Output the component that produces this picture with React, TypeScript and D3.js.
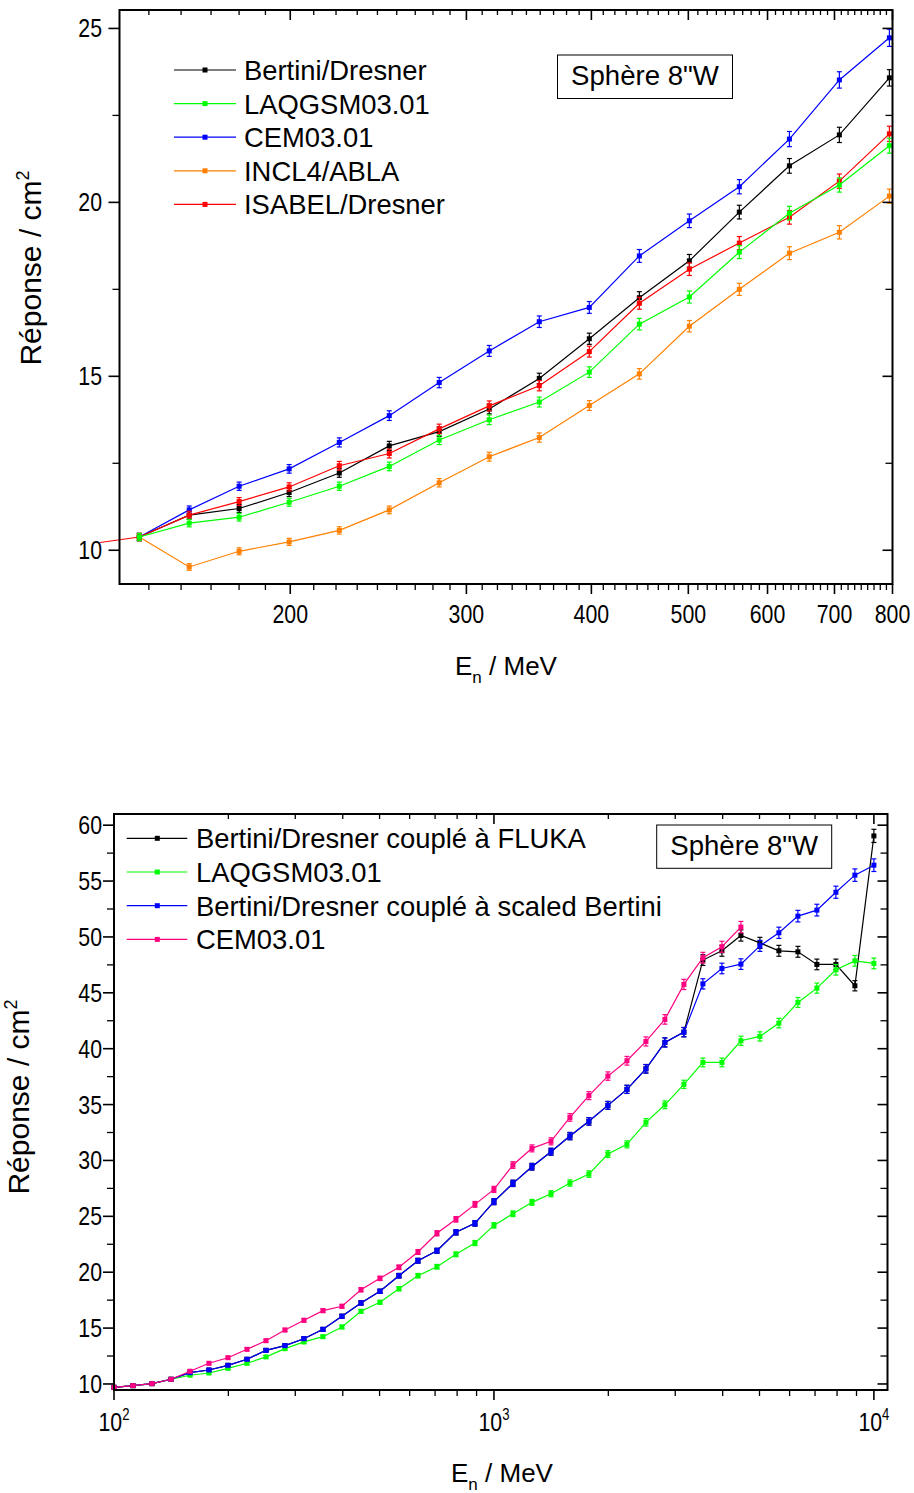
import React from "react";
import * as d3 from "d3";

const W = 914;
const H = 1493;
const FONT = "'Liberation Sans', Arial, Helvetica, sans-serif";
const REL_ERR = 0.01;

// ---------- Top panel data (E in MeV, response in cm^2) ----------
const topEnergy = [125.9, 141.3, 158.5, 177.8, 199.5, 223.9, 251.2, 281.8, 316.2, 354.8, 398.1, 446.7, 501.2, 562.3, 631.0, 707.9, 794.3];
const topBertini = [null, 10.38, 11.01, 11.2, 11.66, 12.22, 13.0, 13.41, 14.06, 14.94, 16.08, 17.26, 18.32, 19.72, 21.05, 21.94, 23.58];
const topLaqgsm = [null, 10.38, 10.78, 10.95, 11.38, 11.84, 12.41, 13.17, 13.75, 14.26, 15.12, 16.5, 17.28, 18.57, 19.69, 20.5, 21.63];
const topCem = [null, 10.38, 11.16, 11.84, 12.34, 13.1, 13.87, 14.82, 15.73, 16.57, 16.98, 18.46, 19.47, 20.45, 21.82, 23.52, 24.73];
const topIncl = [null, 10.38, 9.52, 9.97, 10.24, 10.57, 11.16, 11.94, 12.69, 13.24, 14.16, 15.07, 16.44, 17.5, 18.54, 19.14, 20.18];
const topIsabel = [10.18, 10.38, 11.01, 11.4, 11.82, 12.43, 12.78, 13.49, 14.15, 14.73, 15.71, 17.1, 18.08, 18.83, 19.57, 20.61, 21.97];
const topXMajor = [200, 300, 400, 500, 600, 700, 800];
const topYMajor = [10, 15, 20, 25];
const topYMinor = [12.5, 17.5, 22.5];

// ---------- Bottom panel data ----------
const botEnergy = [100, 112.2, 125.9, 141.3, 158.5, 177.8, 199.5, 223.9, 251.2, 281.8, 316.2, 354.8, 398.1, 446.7, 501.2, 562.3, 631.0, 707.9, 794.3, 891.3, 1000, 1122, 1259, 1413, 1585, 1778, 1995, 2239, 2512, 2818, 3162, 3548, 3981, 4467, 5012, 5623, 6310, 7079, 7943, 8913, 10000];
const botFluka = [9.7, 9.85, 10.03, 10.42, 11.01, 11.25, 11.67, 12.21, 13.01, 13.43, 14.05, 14.89, 16.06, 17.25, 18.29, 19.69, 21.03, 21.92, 23.57, 24.37, 26.31, 27.95, 29.44, 30.78, 32.18, 33.5, 34.93, 36.36, 38.2, 40.56, 41.48, 47.93, 48.76, 50.13, 49.47, 48.76, 48.67, 47.54, 47.54, 45.63, 59.04];
const botLaqgsm = [9.7, 9.85, 10.03, 10.42, 10.78, 10.98, 11.4, 11.85, 12.42, 13.16, 13.76, 14.23, 15.1, 16.5, 17.31, 18.52, 19.69, 20.49, 21.6, 22.61, 24.19, 25.23, 26.25, 27.02, 27.98, 28.78, 30.57, 31.44, 33.41, 34.98, 36.81, 38.77, 38.77, 40.71, 41.1, 42.29, 44.14, 45.42, 47.06, 47.86, 47.63];
const botScaled = [9.7, 9.85, 10.03, 10.42, 11.01, 11.25, 11.67, 12.21, 13.01, 13.43, 14.05, 14.89, 16.06, 17.25, 18.29, 19.69, 21.03, 21.92, 23.57, 24.37, 26.31, 27.95, 29.44, 30.78, 32.18, 33.5, 34.93, 36.36, 38.2, 40.56, 41.48, 45.8, 47.18, 47.57, 49.2, 50.37, 51.86, 52.4, 54.0, 55.53, 56.42];
const botCem = [9.7, 9.85, 10.03, 10.42, 11.14, 11.85, 12.35, 13.1, 13.87, 14.83, 15.7, 16.56, 16.95, 18.43, 19.45, 20.44, 21.81, 23.48, 24.73, 26.07, 27.41, 29.59, 31.08, 31.71, 33.85, 35.8, 37.55, 38.92, 40.65, 42.62, 45.75, 48.14, 49.12, 50.88];
const botXMajor = [100, 1000, 10000];
const botYMajor = [10, 15, 20, 25, 30, 35, 40, 45, 50, 55, 60];
const botYMinor = [12.5, 17.5, 22.5, 27.5, 32.5, 37.5, 42.5, 47.5, 52.5, 57.5];

type Series = { name: string; color: string; xs: number[]; ys: (number | null)[] };

function Chart(p: any) {
  const { id, L, R, T, B, x, y, xMajor, xMinor, yMajor, yMinor, xTickText, xTickY, yTickX, series, order, legend, box, yTitle, xTitle, clipLeft } = p;
  const line = d3
    .line<[number, number | null]>()
    .defined((d) => d[1] !== null)
    .x((d) => x(d[0]))
    .y((d) => y(d[1] as number));
  const cap = 2.5;
  const ms = 5;
  return (
    <g>
      <defs>
        <clipPath id={id + "clip"}>
          <rect x={clipLeft} y={T} width={R - clipLeft} height={B - T} />
        </clipPath>
      </defs>
      {order.map((si: number) => {
        const s: Series = series[si];
        const pts: [number, number | null][] = s.xs.map((e, i) => [e, i < s.ys.length ? s.ys[i] : null]);
        return (
          <g key={s.name}>
            <path d={line(pts) || ""} fill="none" stroke={s.color} strokeWidth={1.2} clipPath={`url(#${id}clip)`} />
            {pts.map((d, i) => {
              if (d[1] === null) return null;
              const v = d[1] as number;
              const cx = x(d[0]);
              if (cx < L - 1) return null;
              const y1 = y(v * (1 - REL_ERR));
              const y2 = y(v * (1 + REL_ERR));
              return (
                <g key={i}>
                  <line x1={cx} x2={cx} y1={y1} y2={y2} stroke={s.color} strokeWidth={1.2} />
                  <line x1={cx - cap} x2={cx + cap} y1={y1} y2={y1} stroke={s.color} strokeWidth={1.2} />
                  <line x1={cx - cap} x2={cx + cap} y1={y2} y2={y2} stroke={s.color} strokeWidth={1.2} />
                  <rect x={cx - ms / 2} y={y(v) - ms / 2} width={ms} height={ms} fill={s.color} />
                </g>
              );
            })}
          </g>
        );
      })}
      <rect x={L} y={T} width={R - L} height={B - T} fill="none" stroke="#000" strokeWidth={2} />
      {xMajor.map((v: number) => (
        <g key={"xM" + v}>
          <line x1={x(v)} x2={x(v)} y1={B} y2={B + 10} stroke="#000" strokeWidth={1.6} />
          <line x1={x(v)} x2={x(v)} y1={T} y2={T + 10} stroke="#000" strokeWidth={1.6} />
        </g>
      ))}
      {xMinor.map((v: number) => (
        <g key={"xm" + v}>
          <line x1={x(v)} x2={x(v)} y1={B} y2={B + 6} stroke="#000" strokeWidth={1.3} />
          <line x1={x(v)} x2={x(v)} y1={T} y2={T + 5} stroke="#000" strokeWidth={1.3} />
        </g>
      ))}
      {xMajor.map((v: number) => (
        <text key={"xl" + v} transform={`translate(${x(v)},${xTickY}) scale(0.82,1)`} textAnchor="middle" fontSize={26} fontFamily={FONT}>
          {xTickText(v)}
        </text>
      ))}
      {yMajor.map((v: number) => (
        <g key={"yM" + v}>
          <line x1={L - 11} x2={L} y1={y(v)} y2={y(v)} stroke="#000" strokeWidth={1.6} />
          <line x1={R - 10} x2={R} y1={y(v)} y2={y(v)} stroke="#000" strokeWidth={1.6} />
          <text transform={`translate(${yTickX},${y(v) + 9}) scale(0.82,1)`} textAnchor="end" fontSize={26} fontFamily={FONT}>
            {v}
          </text>
        </g>
      ))}
      {yMinor.map((v: number) => (
        <g key={"ym" + v}>
          <line x1={L - 7} x2={L} y1={y(v)} y2={y(v)} stroke="#000" strokeWidth={1.3} />
          <line x1={R - 7} x2={R} y1={y(v)} y2={y(v)} stroke="#000" strokeWidth={1.3} />
        </g>
      ))}
      {series.map((s: Series, i: number) => {
        const ly = legend.y0 + i * legend.dy;
        return (
          <g key={"lg" + i}>
            <line x1={legend.x1} x2={legend.x2} y1={ly} y2={ly} stroke={s.color} strokeWidth={1.2} />
            <rect x={legend.xm - 2.5} y={ly - 2.5} width={5} height={5} fill={s.color} />
            <text x={legend.xt} y={ly + 10} fontSize={27.4} fontFamily={FONT}>
              {s.name}
            </text>
          </g>
        );
      })}
      <rect x={box.x} y={box.y} width={box.w} height={box.h} fill="#fff" stroke="#000" strokeWidth={1} />
      <text x={box.x + box.w / 2} y={box.ty} textAnchor="middle" fontSize={27.6} fontFamily={FONT}>
        Sphère 8"W
      </text>
      <text transform={`translate(${yTitle.x},${yTitle.y}) rotate(-90)`} textAnchor="middle" fontSize={30} fontFamily={FONT}>
        Réponse / cm
        <tspan dy={-12} fontSize={18}>
          2
        </tspan>
      </text>
      <text x={xTitle.x} y={xTitle.y} fontSize={26} fontFamily={FONT}>
        E
        <tspan dy={8} fontSize={17}>
          n
        </tspan>
        <tspan dy={-8}> / MeV</tspan>
      </text>
    </g>
  );
}

export default function App() {
  const tL = 119.5, tR = 892.5, tT = 10, tB = 584;
  const tx = d3.scaleLog().domain([135, 800]).range([tL, tR]);
  const ty = d3.scaleLinear().domain([9.03, 25.53]).range([tB, tT]);
  const tMinor: number[] = [];
  for (let k = 1; k < 8; k++) {
    for (let j = 1; j < 9; j++) {
      const v = k * 100 + (j * 100) / 9;
      if (v >= 135 && v <= 800) tMinor.push(v);
    }
  }
  const topSeries: Series[] = [
    { name: "Bertini/Dresner", color: "#000000", xs: topEnergy, ys: topBertini },
    { name: "LAQGSM03.01", color: "#00ff00", xs: topEnergy, ys: topLaqgsm },
    { name: "CEM03.01", color: "#0000ff", xs: topEnergy, ys: topCem },
    { name: "INCL4/ABLA", color: "#ff8000", xs: topEnergy, ys: topIncl },
    { name: "ISABEL/Dresner", color: "#ff0000", xs: topEnergy, ys: topIsabel },
  ];

  const bL = 114, bR = 887.5, bT = 814, bB = 1390;
  const bx = d3.scaleLog().domain([100, 10860]).range([bL, bR]);
  const by = d3.scaleLinear().domain([9.46, 61.0]).range([bB, bT]);
  const bMinor: number[] = [];
  [100, 1000].forEach((d) => {
    for (let j = 2; j < 10; j++) bMinor.push(d * j);
  });
  const botSeries: Series[] = [
    { name: "Bertini/Dresner couplé à FLUKA", color: "#000000", xs: botEnergy, ys: botFluka },
    { name: "LAQGSM03.01", color: "#00ff00", xs: botEnergy, ys: botLaqgsm },
    { name: "Bertini/Dresner couplé à scaled Bertini", color: "#0000ff", xs: botEnergy, ys: botScaled },
    { name: "CEM03.01", color: "#ff0080", xs: botEnergy, ys: botCem },
  ];

  return (
    <svg width={W} height={H} viewBox={`0 0 ${W} ${H}`} style={{ position: "absolute", left: 0, top: 0, background: "#fff" }}>
      <rect x={0} y={0} width={W} height={H} fill="#fff" />
      <Chart
        id="top"
        L={tL}
        R={tR}
        T={tT}
        B={tB}
        x={tx}
        y={ty}
        xMajor={topXMajor}
        xMinor={tMinor}
        yMajor={topYMajor}
        yMinor={topYMinor}
        xTickText={(v: number) => String(v)}
        xTickY={623}
        yTickX={102}
        series={topSeries}
        order={[0, 2, 3, 4, 1]}
        legend={{ x1: 174, x2: 236, xm: 205, xt: 244, y0: 70, dy: 33.6 }}
        box={{ x: 557.5, y: 55, w: 175, h: 43.5, ty: 85 }}
        yTitle={{ x: 41, y: 268 }}
        xTitle={{ x: 455, y: 675 }}
        clipLeft={100}
      />
      <Chart
        id="bot"
        L={bL}
        R={bR}
        T={bT}
        B={bB}
        x={bx}
        y={by}
        xMajor={botXMajor}
        xMinor={bMinor}
        yMajor={botYMajor}
        yMinor={botYMinor}
        xTickText={(v: number) => (
          <>
            10
            <tspan dy={-11} fontSize={16}>
              {Math.round(Math.log10(v))}
            </tspan>
          </>
        )}
        xTickY={1431}
        yTickX={102}
        series={botSeries}
        order={[0, 1, 2, 3]}
        legend={{ x1: 126.7, x2: 187.3, xm: 157.3, xt: 196, y0: 838.3, dy: 33.7 }}
        box={{ x: 656.7, y: 825, w: 175, h: 43.3, ty: 855 }}
        yTitle={{ x: 29, y: 1097 }}
        xTitle={{ x: 451, y: 1482 }}
        clipLeft={bL}
      />
    </svg>
  );
}
